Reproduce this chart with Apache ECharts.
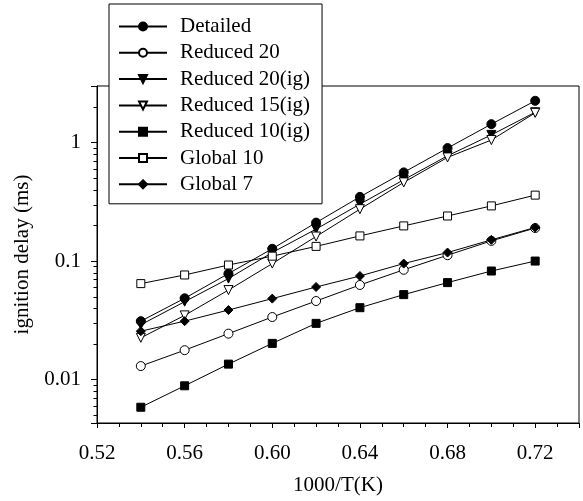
<!DOCTYPE html>
<html>
<head>
<meta charset="utf-8">
<script src="https://cdn.jsdelivr.net/npm/echarts@6/dist/echarts.min.js"></script>
<style>
  html, body { margin: 0; padding: 0; background: #fff; }
  #chart { width: 583px; height: 501px; }
</style>
</head>
<body>
<div id="chart"></div>
<script>
// 1000/T(K) values
var invT = [0.54, 0.56, 0.58, 0.60, 0.62, 0.64, 0.66, 0.68, 0.70, 0.72];

// ignition delay (ms)
var detailed   = [0.0311, 0.0485, 0.0784, 0.127, 0.211, 0.348, 0.560, 0.898, 1.43, 2.25];
var reduced20  = [0.0130, 0.0177, 0.0244, 0.0337, 0.0460, 0.0628, 0.0844, 0.112, 0.148, 0.190];
var reduced20ig = [0.0290, 0.0454, 0.0711, 0.118, 0.186, 0.302, 0.485, 0.773, 1.16, 1.80];
var reduced15ig = [0.0225, 0.0348, 0.0569, 0.0952, 0.161, 0.274, 0.461, 0.749, 1.05, 1.78];
var reduced10ig = [0.00584, 0.00886, 0.0135, 0.0202, 0.0298, 0.0404, 0.0521, 0.0658, 0.0824, 0.100];
var global10   = [0.0645, 0.0763, 0.0926, 0.110, 0.133, 0.163, 0.198, 0.240, 0.292, 0.360];
var global7    = [0.0256, 0.0311, 0.0386, 0.0482, 0.0604, 0.0748, 0.0952, 0.118, 0.151, 0.192];

// axis ranges and log minor tick positions
var xMin = 0.52, xMax = 0.74;
var yMin = 0.0043, yMax = 3;
var decades = [0.001, 0.01, 0.1, 1];
var minorSteps = [2, 3, 4, 5, 6, 7, 8, 9];

var FONT = '"Liberation Serif", "DejaVu Serif", serif';

function pairs(ys) {
  return ys.map(function (v, i) { return [invT[i], v]; });
}

var minorTicks = [];
decades.forEach(function (d) {
  minorSteps.forEach(function (m) {
    var v = +(d * m).toPrecision(3);
    if (v > yMin && v < yMax) minorTicks.push([xMin, v]);
  });
});

function makeSeries(name, data, symbol, filled, rotate) {
  return {
    name: name,
    type: 'line',
    data: pairs(data),
    symbol: symbol,
    symbolSize: symbol === 'rect' ? 8 : 9,
    symbolRotate: rotate || 0,
    showAllSymbol: true,
    lineStyle: { color: '#000', width: 1 },
    itemStyle: {
      color: filled ? '#000' : '#fff',
      borderColor: '#000',
      borderWidth: 1
    },
    emphasis: { disabled: true },
    animation: false
  };
}

var chart = echarts.init(document.getElementById('chart'));

var option = {
  animation: false,
  textStyle: { fontFamily: FONT },
  grid: {
    left: 97, right: 4, top: 86, bottom: 78,
    show: true,
    borderColor: '#000',
    borderWidth: 1,
    backgroundColor: 'transparent'
  },
  legend: {
    orient: 'vertical',
    left: 109,
    top: 4,
    padding: [12, 12, 9, 9],
    itemWidth: 48,
    itemHeight: 10,
    itemGap: 5.3,
    backgroundColor: '#fff',
    borderColor: '#000',
    borderWidth: 1,
    borderRadius: 0,
    z: 10,
    selectedMode: false,
    textStyle: {
      fontFamily: FONT,
      fontSize: 21,
      lineHeight: 21,
      color: '#000',
      padding: [0, 0, 0, 8]
    },
    data: ['Detailed', 'Reduced 20', 'Reduced 20(ig)', 'Reduced 15(ig)', 'Reduced 10(ig)', 'Global 10', 'Global 7']
  },
  xAxis: [{
    type: 'value',
    min: xMin,
    max: xMax,
    interval: 0.04,
    name: '1000/T(K)',
    nameLocation: 'middle',
    nameGap: 52,
    nameTextStyle: { fontFamily: FONT, fontSize: 21, color: '#000' },
    axisLine: { show: true, lineStyle: { color: '#000', width: 1 } },
    axisTick: { show: true, inside: false, length: 5, lineStyle: { color: '#000' } },
    splitLine: { show: false },
    axisLabel: {
      fontFamily: FONT,
      fontSize: 21,
      color: '#000',
      margin: 20,
      showMaxLabel: true,
      formatter: function (v) { return v > 0.73 ? '' : v.toFixed(2); }
    }
  }, {
    type: 'value',
    position: 'bottom',
    min: xMin,
    max: xMax,
    interval: 0.01,
    axisLine: { show: false },
    axisTick: { show: true, inside: false, length: 4, lineStyle: { color: '#000' } },
    axisLabel: { show: false },
    splitLine: { show: false }
  }],
  yAxis: {
    type: 'log',
    logBase: 10,
    min: yMin,
    max: yMax,
    name: 'ignition delay (ms)',
    nameLocation: 'middle',
    nameGap: 52,
    nameTextStyle: { fontFamily: FONT, fontSize: 21, color: '#000' },
    axisLine: { show: true, lineStyle: { color: '#000', width: 1 } },
    axisTick: { show: true, inside: false, length: 6, lineStyle: { color: '#000' } },
    splitLine: { show: false },
    axisLabel: {
      fontFamily: FONT,
      fontSize: 21,
      color: '#000',
      margin: 16,
      formatter: function (v) {
        var e = Math.log10(v);
        var r = Math.round(e);
        if (Math.abs(e - r) > 1e-6) return '';
        return r >= 0 ? String(Math.pow(10, r)) : Math.pow(10, r).toFixed(-r);
      }
    }
  },
  series: [
    makeSeries('Detailed', detailed, 'circle', true),
    makeSeries('Reduced 20', reduced20, 'circle', false),
    makeSeries('Reduced 20(ig)', reduced20ig, 'triangle', true, 180),
    makeSeries('Reduced 15(ig)', reduced15ig, 'triangle', false, 180),
    makeSeries('Reduced 10(ig)', reduced10ig, 'rect', true),
    makeSeries('Global 10', global10, 'rect', false),
    makeSeries('Global 7', global7, 'diamond', true),
    {
      // log minor ticks on the y axis
      type: 'custom',
      silent: true,
      clip: false,
      data: minorTicks,
      encode: { x: 0, y: 1 },
      renderItem: function (params, api) {
        var p = api.coord([api.value(0), api.value(1)]);
        var y = Math.round(p[1]) + 0.5;
        return {
          type: 'line',
          shape: { x1: p[0] - 3.5, y1: y, x2: p[0], y2: y },
          style: { stroke: '#000', lineWidth: 1 }
        };
      }
    }
  ]
};

chart.setOption(option);
</script>
</body>
</html>
